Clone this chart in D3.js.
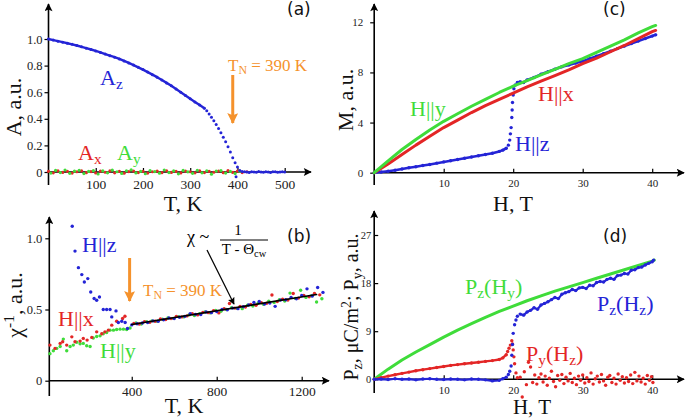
<!DOCTYPE html>
<html><head><meta charset="utf-8">
<script src="https://cdn.jsdelivr.net/npm/d3@7"></script>
<style>
body{margin:0;background:#fff}
</style>
</head><body>
<script>
// ---------- DATA ----------
// (a) order parameter components vs T
const azT = [0,10,20,30,40,50,60,70,80,90,100,110,120,130,140,150,160,170,180,190,200,210,220,230,240,250,260,270,280,290,300,310,320,330,
  335,340,345,350,355,360,365,370,375,380,385,390,395,397,400,405,410,415,420,425,430,435,440,445,450,455,460,465,470,475,480,485,490,495,500];
const azV = [1.000,0.992,0.984,0.976,0.968,0.960,0.951,0.941,0.931,0.921,0.910,0.899,0.887,0.875,0.863,0.850,0.835,0.820,0.804,0.787,0.770,0.751,0.732,0.713,0.692,0.670,0.648,0.624,0.600,0.575,0.550,0.527,0.503,0.480,
  0.460,0.436,0.412,0.386,0.358,0.328,0.296,0.262,0.228,0.190,0.150,0.108,0.070,-0.035,0.038,0.012,0.004,0.002,0.000,-0.003,0.002,0.000,-0.002,0.003,0.000,-0.002,0.002,0.000,-0.003,0.001,0.002,-0.001,0.000,0.002,0.000];
const axT = [0,10,20,30,40,50,60,70,80,90,100,110,120,130,140,150,160,170,180,190,200,210,220,230,240,250,260,270,280,290,300,310,320,330,340,350,360,370,380,390,400,410,420];
const axV = [0.004,-0.006,0.008,-0.003,0.005,-0.008,0.002,0.009,-0.005,0.003,-0.007,0.006,-0.002,0.008,-0.006,0.004,-0.009,0.003,0.007,-0.004,0.005,-0.008,0.002,0.006,-0.005,0.009,-0.003,0.004,-0.007,0.006,0.002,-0.006,0.008,-0.004,0.005,-0.002,0.007,-0.005,0.010,-0.003,0.006,-0.004,0.002];
const ayT = [5,15,25,35,45,55,65,75,85,95,105,115,125,135,145,155,165,175,185,195,205,215,225,235,245,255,265,275,285,295,305,315,325,335,345,355,365,375,385,395,405];
const ayV = [-0.008,0.012,-0.004,0.015,-0.010,0.006,0.013,-0.012,0.004,0.010,-0.015,0.008,-0.006,0.014,0.002,-0.011,0.009,0.016,-0.007,0.005,-0.013,0.011,0.003,-0.009,0.015,-0.004,0.008,-0.014,0.012,0.001,-0.010,0.013,-0.006,0.009,-0.016,0.007,0.011,-0.008,0.004,-0.012,0.006];
const aTicksX = [100,200,300,400,500];
const aTicksY = [0,0.2,0.4,0.6,0.8,1.0];

// (b) inverse susceptibility vs T
const bzT = [120,133,149,165,177,193,207,223,235,248,266,282,298,306,326,337,353,369,380,
  400,425,450,475,500,525,550,575,600,625,650,675,700,725,750,775,800,825,850,875,900,925,950,975,1000,1025,1050,1075,1100,1125,1150,1175,1200,1225,1250,1275,1300];
const bzV = [1.085,0.910,0.794,0.745,0.693,0.717,0.623,0.577,0.565,0.588,0.500,0.500,0.500,0.448,0.490,0.409,0.418,0.409,0.367,
  0.392,0.400,0.405,0.409,0.420,0.418,0.428,0.440,0.436,0.446,0.452,0.470,0.466,0.465,0.482,0.478,0.486,0.500,0.498,0.510,0.506,0.520,0.532,0.550,0.556,0.538,0.546,0.522,0.566,0.568,0.585,0.575,0.598,0.645,0.595,0.655,0.620];
const bxT = [15,39,63,75,94,118,133,157,172,190,212,235,259,274,290,306,329,357,368,
  410,435,460,485,510,535,560,585,610,635,660,685,710,735,760,785,810,835,860,885,910,935,960,985,1010,1035,1060,1085,1110,1135,1160,1185,1210,1235,1260,1285];
const bxV = [0.250,0.227,0.262,0.273,0.250,0.308,0.273,0.278,0.297,0.285,0.304,0.343,0.330,0.343,0.355,0.390,0.418,0.437,0.453,
  0.402,0.398,0.415,0.410,0.418,0.433,0.430,0.436,0.452,0.448,0.455,0.470,0.462,0.480,0.478,0.492,0.476,0.505,0.542,0.510,0.522,0.518,0.535,0.530,0.548,0.544,0.602,0.556,0.572,0.566,0.612,0.580,0.598,0.590,0.612,0.603];
const byT = [15,31,47,63,78,94,110,125,141,157,172,188,204,219,235,251,266,282,298,314,329,345,361,376,392,
  420,445,470,495,520,545,570,595,620,645,670,695,720,745,770,795,820,845,870,895,920,945,970,995,1020,1045,1070,1095,1120,1145,1170,1195,1220,1245,1270,1295];
const byV = [0.190,0.210,0.227,0.240,0.292,0.210,0.240,0.250,0.270,0.260,0.262,0.245,0.240,0.300,0.310,0.315,0.330,0.338,0.355,0.355,0.360,0.362,0.362,0.360,0.370,
  0.405,0.398,0.415,0.420,0.418,0.432,0.440,0.438,0.450,0.448,0.462,0.458,0.470,0.482,0.476,0.494,0.488,0.500,0.512,0.508,0.506,0.530,0.525,0.545,0.536,0.558,0.550,0.568,0.560,0.615,0.578,0.635,0.585,0.596,0.553,0.575];
const fitT = [400,1270];
const fitV = [0.395,0.605];
const bTicksX = [400,800,1200];
const bTicksY = [0,0.5,1.0];

// (c) magnetization vs H
const cyH = [0,2,4,6,8,10,12,14,16,18,20,22,24,26,28,30,32,34,36,38,40,40.5];
const cyV = [0,0.95,1.85,2.65,3.4,4.1,4.7,5.3,5.85,6.4,6.9,7.35,7.8,8.25,8.7,9.1,9.6,10.1,10.6,11.15,11.65,11.75];
const cxH = [0,2,4,6,8,10,12,14,16,18,20,22,24,26,28,30,32,34,36,38,40,40.5];
const cxV = [0,0.7,1.45,2.2,2.9,3.6,4.2,4.8,5.35,5.85,6.35,6.85,7.3,7.75,8.2,8.7,9.15,9.65,10.15,10.7,11.25,11.35];
const czH = [0,1,2,3,4,5,6,7,8,9,10,11,12,13,14,15,16,17,18,18.5,19,19.3,19.5,19.6,19.7,19.8,19.85,19.9,20,20.1,20.3,20.6,21,21.5,22,23,24,25,26,27,28,29,30,31,32,33,34,35,36,37,38,39,40,40.5];
const czV = [0,0.05,0.12,0.2,0.3,0.4,0.48,0.57,0.66,0.76,0.86,0.95,1.05,1.15,1.25,1.35,1.45,1.55,1.7,1.8,1.95,2.2,2.6,3.1,3.6,4.4,5.0,5.6,6.2,6.7,7.0,7.2,7.25,7.2,7.4,7.6,7.85,8.05,8.25,8.45,8.6,8.75,8.9,9.1,9.3,9.5,9.7,9.9,10.1,10.3,10.5,10.7,10.9,11.0];
const cTicksX = [10,20,30,40];
const cTicksY = [0,4,8,12];

// (d) electric polarization vs H
const dgH = [0,2,4,6,8,10,12,14,16,18,20,22,24,26,28,30,32,34,36,38,40,40.3];
const dgV = [0,1.9,3.6,5.1,6.5,7.9,9.2,10.4,11.6,12.7,13.7,14.7,15.6,16.5,17.3,18.1,18.9,19.7,20.5,21.3,22.1,22.3];
const dbH = [0,1,2,3,4,5,6,7,8,9,10,11,12,13,14,15,16,17,18,18.5,19,19.3,19.5,19.7,19.8,19.9,20,20.2,20.4,20.6,21,21.5,22,
  22.5,23,23.5,24,24.5,25,25.5,26,26.5,27,27.5,28,28.5,29,29.5,30,30.5,31,31.5,32,32.5,33,33.5,34,34.5,35,35.5,36,36.5,37,37.5,38,38.5,39,39.5,40,40.2];
const dbV = [0,0.05,-0.05,0.1,0,0.05,-0.1,0.05,0.1,0,-0.05,0.05,0,-0.1,0.05,0,-0.1,-0.3,-0.2,0.1,0.4,0.9,1.5,2.5,4.5,6.5,8.6,10.2,11.1,11.8,12.2,12.0,12.6,
  12.9,13.4,13.1,13.9,14.2,14.5,14.9,15.3,15.1,15.9,16.2,16.4,16.8,16.6,17.1,17.2,17.0,17.6,17.5,18.1,18.3,18.2,18.7,18.9,18.7,19.4,19.5,19.8,19.7,20.4,20.5,20.9,21.0,21.4,21.7,22.0,22.3];
const drH = [0,1,2,3,4,5,6,7,8,9,10,11,12,13,14,15,16,17,18,18.5,19,19.2,19.4,19.6,19.8,19.9,20,20.1,20.2,20.4,20.6,
  21.0,21.3,21.6,21.9,22.2,22.5,22.8,23.1,23.4,23.7,24.0,24.3,24.6,24.9,25.2,25.5,25.8,26.1,26.4,26.7,27.0,27.3,27.6,27.9,28.2,28.5,28.8,29.1,29.4,29.7,30.0,30.3,30.6,30.9,31.2,31.5,31.8,32.1,32.4,32.7,33.0,33.3,33.6,33.9,34.2,34.5,34.8,35.1,35.4,35.7,36.0,36.3,36.6,36.9,37.2,37.5,37.8,38.1,38.4,38.7,39.0,39.3,39.6,39.9,40.1];
const drV = [0,0.3,0.6,0.85,1.1,1.35,1.6,1.8,2.0,2.2,2.4,2.6,2.75,2.9,3.05,3.2,3.35,3.5,3.7,4.0,4.6,5.2,5.8,6.4,7.2,6.6,5.5,4.2,2.9,1.2,0.3,
  0.4,-3.3,1.4,-1.0,3.2,2.3,-0.6,0.8,-0.9,0.3,1.0,-0.5,0.6,-1.1,0.2,1.5,-0.4,-1.4,0.7,-0.2,0.9,-0.8,0.4,-0.3,1.1,-0.6,0.2,-1.0,0.6,-0.2,0.8,-0.7,0.3,-0.4,1.2,-0.9,0.1,0.6,-0.5,0.9,-0.3,-1.1,0.4,0.7,-0.6,0.2,-0.9,1.0,-0.2,0.5,-0.7,0.3,-0.4,0.8,-0.8,1.3,-0.3,0.6,-0.5,0.2,-0.9,0.7,-0.2,0.5,-0.6];
const dTicksX = [10,20,30,40];
const dTicksY = [0,9,18,27];

// ---------- STYLE ----------
const BLUE = "#2424d6", RED = "#e32626", GREEN = "#3fdc3a", ORANGE = "#f5922c";

// pick an installed serif face (falls back gracefully)
function pickFont(cands, fallback){
  const c = document.createElement("canvas").getContext("2d");
  const probe = "mmmmmmmmmwwwwwlliiIIWW0123";
  const base = {};
  ["monospace","sans-serif"].forEach(b=>{ c.font = "40px " + b; base[b] = c.measureText(probe).width; });
  for(const f of cands){
    let found = false;
    for(const b of ["monospace","sans-serif"]){
      c.font = `40px "${f}", ${b}`;
      if(Math.abs(c.measureText(probe).width - base[b]) > 0.5) found = true;
    }
    if(found) return `"${f}", ${fallback}`;
  }
  return fallback;
}
const SERIF = pickFont(["Liberation Serif","Times New Roman","Tinos","DejaVu Serif","Noto Serif","FreeSerif","Nimbus Roman","Times"], "serif");
const SANS = pickFont(["DejaVu Sans","Liberation Sans","Noto Sans"], "sans-serif");

const svg = d3.select("body").append("svg").attr("width",685).attr("height",419)
  .style("font-family",SERIF);
const defs = svg.append("defs");
function marker(id, color, w, h){
  defs.append("marker").attr("id",id).attr("viewBox","0 0 10 10")
    .attr("refX",9).attr("refY",5).attr("markerUnits","userSpaceOnUse")
    .attr("markerWidth",w).attr("markerHeight",h).attr("orient","auto")
    .append("path").attr("d","M0,0L10,5L0,10L2,5Z").attr("fill",color);
}
marker("ab","#000",10,8);
marker("ao",ORANGE,16,11);
marker("ak","#000",9,7);

const zip = (a,b) => a.map((v,i)=>({x:v,y:b[i]}));

function frame(x, y, o){
  const g = svg.append("g");
  const x0 = x.range()[0], y0 = y.range()[0];
  g.append("line").attr("x1",x0).attr("x2",x0).attr("y1",o.yBot).attr("y2",o.yTop)
    .attr("stroke","#000").attr("stroke-width",1.6).attr("marker-end","url(#ab)");
  g.append("line").attr("x1",x0).attr("x2",o.xEnd).attr("y1",y0).attr("y2",y0)
    .attr("stroke","#000").attr("stroke-width",1.6).attr("marker-end","url(#ab)");
  const ax = g.append("g").attr("transform",`translate(0,${y0})`)
    .call(d3.axisBottom(x).tickValues(o.tx).tickSizeInner(-4).tickSizeOuter(0).tickPadding(o.px).tickFormat(d3.format("d")));
  ax.select(".domain").remove();
  ax.selectAll("text").attr("font-size",o.fx).style("font-family",SERIF).attr("fill","#222");
  ax.selectAll("line").attr("stroke","#000").attr("stroke-width",1.2);
  const ay = g.append("g").attr("transform",`translate(${x0},0)`)
    .call(d3.axisLeft(y).tickValues(o.ty).tickSizeInner(o.ts).tickSizeOuter(0).tickPadding(o.py).tickFormat(o.fmt));
  ay.select(".domain").remove();
  ay.selectAll("text").attr("font-size",o.fy).style("font-family",SERIF).attr("fill","#222");
  ay.selectAll("line").attr("stroke","#000").attr("stroke-width",1.2);
  return g;
}
function dots(x,y,data,color,r){
  svg.append("g").selectAll("circle").data(data).join("circle")
    .attr("cx",d=>x(d.x)).attr("cy",d=>y(d.y)).attr("r",r||1.5).attr("fill",color);
}
function curve(x,y,data,color,w,def){
  const ln = d3.line().x(d=>x(d.x)).y(d=>y(d.y)).defined(def||(()=>true));
  svg.append("path").datum(data).attr("d",ln).attr("fill","none")
    .attr("stroke",color).attr("stroke-width",w).attr("stroke-linejoin","round").attr("stroke-linecap","round");
}
function label(x,y,parts,color,size,anchor,rot){
  const t = svg.append("text").attr("fill",color).attr("font-size",size)
    .style("font-family",SERIF).attr("text-anchor",anchor||"start");
  if(rot){ t.attr("transform",`translate(${x},${y}) rotate(-90)`); }
  else { t.attr("x",x).attr("y",y); }
  let shift = 0;
  parts.forEach(p=>{
    const s = typeof p === "string" ? {t:p} : p;
    const target = s.sub ? size*0.2 : s.sup ? -size*0.35 : 0;
    const ts = t.append("tspan").text(s.t).attr("dy",target-shift);
    if(s.sub||s.sup) ts.attr("font-size",size*0.7);
    shift = target;
  });
  return t;
}
function panelTag(x,y,s){
  svg.append("text").attr("x",x).attr("y",y).attr("font-size",17)
    .style("font-family",SANS).attr("fill","#111").text(s);
}
function tnArrow(x, y1, y2){
  svg.append("line").attr("x1",x).attr("x2",x).attr("y1",y1).attr("y2",y2)
    .attr("stroke",ORANGE).attr("stroke-width",3).attr("marker-end","url(#ao)");
}
const fmt1 = d => d===0 ? "0" : d3.format(".1f")(d);

// ---------- (a) ----------
const xA = d3.scaleLinear().domain([0,500]).range([48.5,284.7]);
const yA = d3.scaleLinear().domain([0,1]).range([172,39]);
frame(xA,yA,{yBot:185,yTop:4,xEnd:311,tx:aTicksX,ty:aTicksY,px:7,py:2,ts:4,fx:13.5,fy:12.5,fmt:fmt1});
dots(xA,yA,zip(axT,axV),RED,1.6);
dots(xA,yA,zip(ayT,ayV),GREEN,1.6);
const az = zip(azT,azV);
curve(xA,yA,az,BLUE,2.4,d=>d.x<=330);
dots(xA,yA,az,BLUE,1.5);
label(100,85,["A",{t:"z",sub:1}],BLUE,22);
label(78,160,["A",{t:"x",sub:1}],RED,22);
label(117,160,["A",{t:"y",sub:1}],GREEN,22);
label(228,71,["T",{t:"N",sub:1}," = 390 K"],ORANGE,17);
tnArrow(xA(390),75,123);
label(183,211,["T, K"],"#111",22,"middle");
label(21,107,["A, a.u."],"#111",22,"middle",true);
panelTag(287,15,"(a)");

// ---------- (b) ----------
const xB = d3.scaleLinear().domain([12,1200]).range([49.3,301.7]);
const yB = d3.scaleLinear().domain([0,1]).range([380.7,238.3]);
frame(xB,yB,{yBot:396,yTop:217,xEnd:329,tx:bTicksX,ty:bTicksY,px:6,py:3,ts:4,fx:13.5,fy:12.5,fmt:fmt1});
dots(xB,yB,zip(byT,byV),GREEN,1.7);
dots(xB,yB,zip(bxT,bxV),RED,1.7);
dots(xB,yB,zip(bzT,bzV),BLUE,1.7);
curve(xB,yB,zip(fitT,fitV),"#000",1.6);
label(82,252,["H||z"],BLUE,22);
label(58,326,["H||x"],RED,22);
label(100,358,["H||y"],GREEN,22);
label(143,296,["T",{t:"N",sub:1}," = 390 K"],ORANGE,17);
tnArrow(xB(390),258,301);
label(187,243,["χ ~"],"#000",18);
label(238,235,["1"],"#000",15,"middle");
svg.append("line").attr("x1",220).attr("x2",268).attr("y1",240).attr("y2",240).attr("stroke","#000").attr("stroke-width",1);
label(244,254,["T - Θ",{t:"cw",sub:1}],"#000",15,"middle");
svg.append("line").attr("x1",207).attr("y1",250).attr("x2",234).attr("y2",304)
  .attr("stroke","#000").attr("stroke-width",1.2).attr("marker-end","url(#ak)");
label(184,413,["T, K"],"#111",22,"middle");
label(22,305,["χ",{t:"-1",sup:1},", a.u."],"#111",22,"middle",true);
panelTag(287,242,"(b)");

// ---------- (c) ----------
const xC = d3.scaleLinear().domain([0,40]).range([374.2,652.2]);
const yC = d3.scaleLinear().domain([0,12]).range([172.7,22.3]);
frame(xC,yC,{yBot:185,yTop:4,xEnd:684,tx:cTicksX,ty:cTicksY,px:6.5,py:7,ts:4,fx:11,fy:11,fmt:d3.format("d")});
const cz = zip(czH,czV);
curve(xC,yC,cz,BLUE,2.6,d=>d.x<=19||d.x>=20.6);
dots(xC,yC,cz,BLUE,1.7);
curve(xC,yC,zip(cxH,cxV),RED,3);
curve(xC,yC,zip(cyH,cyV),GREEN,3);
label(410,116,["H||y"],GREEN,22);
label(538,101,["H||x"],RED,22);
label(515,151,["H||z"],BLUE,22);
label(513,211,["H, T"],"#111",22,"middle");
label(353,100,["M, a.u."],"#111",22,"middle",true);
panelTag(603,15,"(c)");

// ---------- (d) ----------
const xD = d3.scaleLinear().domain([0,40]).range([374.2,652.2]);
const yD = d3.scaleLinear().domain([0,27]).range([379.3,235]);
frame(xD,yD,{yBot:393,yTop:211,xEnd:684,tx:dTicksX,ty:dTicksY,px:6.5,py:3,ts:-4,fx:11,fy:10.5,fmt:d3.format("d")});
curve(xD,yD,zip(dgH,dgV),GREEN,3);
const dr = zip(drH,drV);
curve(xD,yD,dr,RED,2.4,d=>d.x<=19);
dots(xD,yD,dr,RED,1.7);
const db = zip(dbH,dbV);
curve(xD,yD,db,BLUE,2.2,d=>d.x<=19||d.x>=21);
dots(xD,yD,db,BLUE,1.7);
label(465,294,["P",{t:"z",sub:1},"(H",{t:"y",sub:1},")"],GREEN,22);
label(597,311,["P",{t:"z",sub:1},"(H",{t:"z",sub:1},")"],BLUE,22);
label(526,361,["P",{t:"y",sub:1},"(H",{t:"z",sub:1},")"],RED,22);
label(532,414,["H, T"],"#111",21,"middle");
label(358,307,["P",{t:"z",sub:1},", μC/m",{t:"2",sup:1},"; P",{t:"y",sub:1},", a.u."],"#111",20,"middle",true);
panelTag(603,242,"(d)");
</script>
</body></html>
